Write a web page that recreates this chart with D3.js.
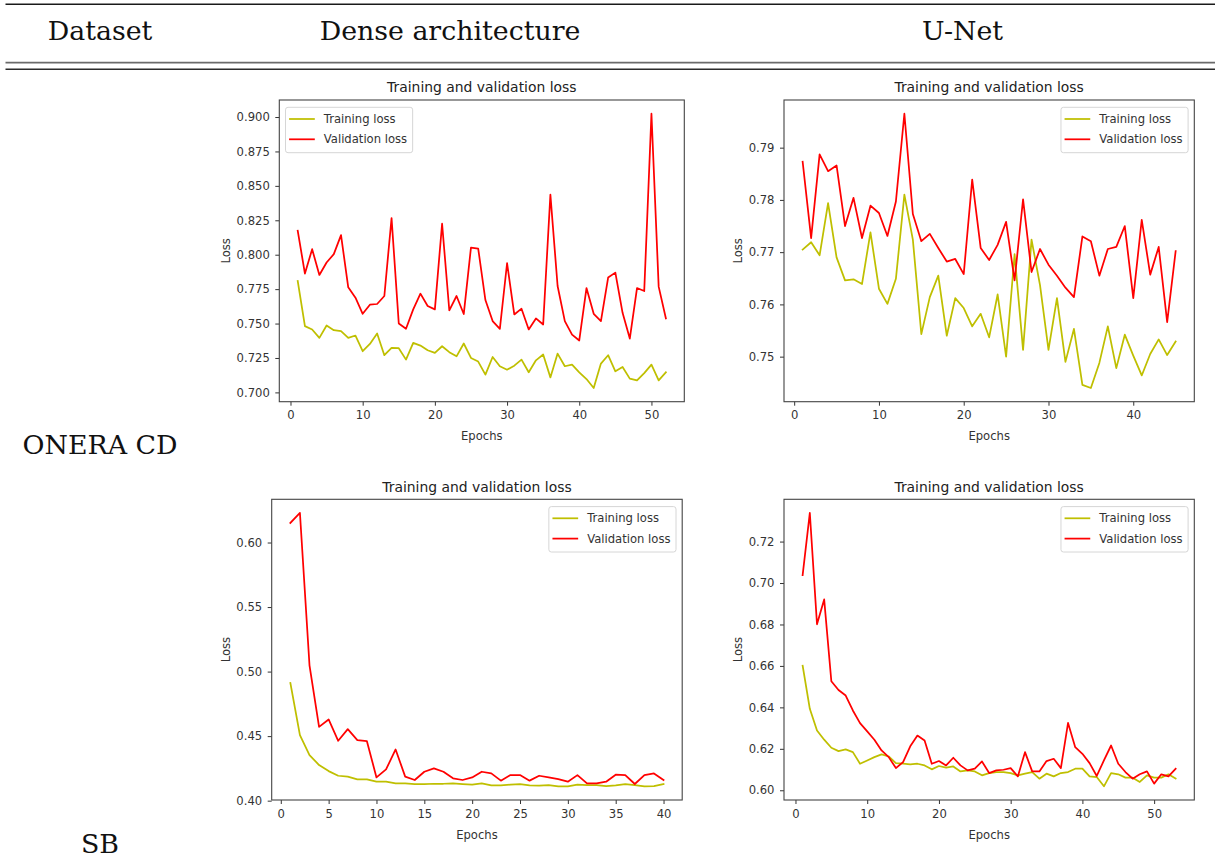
<!DOCTYPE html>
<html>
<head>
<meta charset="utf-8">
<script src="https://cdn.jsdelivr.net/npm/d3@7"></script>
<style>
  html, body { margin: 0; padding: 0; background: #fff; }
  svg { display: block; }
</style>
</head>
<body>
<svg id="fig" width="1215" height="857"></svg>
<script>
// ---- Column / row headings ----
const columnHeads = ["Dataset", "Dense architecture", "U-Net"];
const rowHeads = ["ONERA CD", "SB"];
const panelTitle = "Training and validation loss";
const seriesNames = ["Training loss", "Validation loss"];
const xAxisName = "Epochs";
const yAxisName = "Loss";

// ---- ONERA CD, dense architecture (epochs 1..52) ----
const denseOneraTrain = [0.7809,0.7481,0.7457,0.7396,0.7486,0.7452,0.7445,0.7396,0.7413,0.7299,
  0.7352,0.7428,0.7270,0.7323,0.7321,0.7238,0.7360,0.7340,0.7306,0.7287,
  0.7335,0.7292,0.7262,0.7355,0.7250,0.7224,0.7129,0.7257,0.7190,0.7165,
  0.7194,0.7238,0.7146,0.7233,0.7275,0.7109,0.7282,0.7190,0.7202,0.7146,
  0.7097,0.7032,0.7209,0.7270,0.7153,0.7185,0.7100,0.7087,0.7140,0.7202,
  0.7087,0.7146];
const denseOneraVal = [0.8174,0.7863,0.8040,0.7853,0.7943,0.8004,0.8142,0.7763,0.7688,0.7571,
  0.7637,0.7642,0.7700,0.8266,0.7500,0.7462,0.7603,0.7717,0.7627,0.7603,
  0.8225,0.7595,0.7700,0.7569,0.8052,0.8045,0.7671,0.7518,0.7462,0.7938,
  0.7566,0.7608,0.7457,0.7537,0.7493,0.8436,0.7773,0.7518,0.7420,0.7377,
  0.7758,0.7571,0.7518,0.7834,0.7870,0.7578,0.7391,0.7758,0.7736,0.9024,
  0.7768,0.7537];
const denseOneraYTicks = [0.700,0.725,0.750,0.775,0.800,0.825,0.850,0.875,0.900];
const denseOneraXTicks = [0,10,20,30,40,50];

// ---- ONERA CD, U-Net (epochs 1..45) ----
const unetOneraTrain = [0.7705,0.7719,0.7694,0.7794,0.7690,0.7646,0.7648,0.7639,0.7738,0.7630,
  0.7601,0.7649,0.7810,0.7724,0.7543,0.7614,0.7655,0.7540,0.7612,0.7593,
  0.7558,0.7582,0.7537,0.7619,0.7500,0.7696,0.7513,0.7724,0.7637,0.7513,
  0.7612,0.7490,0.7553,0.7446,0.7440,0.7488,0.7558,0.7478,0.7542,0.7502,
  0.7464,0.7505,0.7533,0.7503,0.7529];
const unetOneraVal = [0.7873,0.7727,0.7887,0.7855,0.7866,0.7750,0.7804,0.7727,0.7789,0.7775,
  0.7731,0.7797,0.7965,0.7773,0.7721,0.7735,0.7708,0.7682,0.7687,0.7658,
  0.7839,0.7708,0.7685,0.7714,0.7758,0.7646,0.7801,0.7662,0.7706,0.7676,
  0.7655,0.7632,0.7614,0.7730,0.7721,0.7655,0.7706,0.7710,0.7750,0.7612,
  0.7762,0.7657,0.7710,0.7566,0.7702];
const unetOneraYTicks = [0.75,0.76,0.77,0.78,0.79];
const unetOneraXTicks = [0,10,20,30,40];

// ---- SB, dense architecture (epochs 1..40) ----
const denseSbTrain = [0.4912,0.4508,0.4353,0.4276,0.4229,0.4193,0.4186,0.4165,0.4165,0.4147,
  0.4147,0.4134,0.4134,0.4129,0.4129,0.4131,0.4131,0.4134,0.4129,0.4124,
  0.4134,0.4119,0.4119,0.4124,0.4129,0.4119,0.4116,0.4121,0.4111,0.4111,
  0.4124,0.4121,0.4121,0.4113,0.4119,0.4129,0.4121,0.4111,0.4113,0.4129];
const denseSbVal = [0.6152,0.6229,0.5049,0.4572,0.4629,0.4464,0.4554,0.4469,0.4461,0.4180,
  0.4242,0.4397,0.4186,0.4160,0.4224,0.4250,0.4224,0.4173,0.4160,0.4180,
  0.4224,0.4211,0.4155,0.4198,0.4198,0.4155,0.4193,0.4180,0.4167,0.4147,
  0.4198,0.4134,0.4134,0.4147,0.4201,0.4198,0.4129,0.4198,0.4211,0.4160];
const denseSbYTicks = [0.40,0.45,0.50,0.55,0.60];
const denseSbXTicks = [0,5,10,15,20,25,30,35,40];

// ---- SB, U-Net (epochs 1..53) ----
const unetSbTrain = [0.6601,0.6393,0.6288,0.6244,0.6205,0.6189,0.6197,0.6184,0.6128,0.6144,
  0.6160,0.6173,0.6163,0.6131,0.6128,0.6125,0.6128,0.6120,0.6101,0.6117,
  0.6109,0.6115,0.6091,0.6096,0.6091,0.6072,0.6083,0.6088,0.6088,0.6083,
  0.6072,0.6080,0.6088,0.6056,0.6080,0.6067,0.6083,0.6088,0.6104,0.6104,
  0.6067,0.6064,0.6019,0.6083,0.6077,0.6061,0.6061,0.6040,0.6072,0.6061,
  0.6061,0.6077,0.6056];
const unetSbVal = [0.7038,0.7338,0.6801,0.6921,0.6526,0.6484,0.6457,0.6385,0.6324,0.6284,
  0.6244,0.6192,0.6160,0.6107,0.6136,0.6212,0.6264,0.6240,0.6128,0.6141,
  0.6120,0.6157,0.6120,0.6096,0.6104,0.6139,0.6083,0.6096,0.6099,0.6107,
  0.6067,0.6184,0.6091,0.6091,0.6141,0.6152,0.6107,0.6325,0.6208,0.6176,
  0.6131,0.6069,0.6144,0.6216,0.6128,0.6088,0.6056,0.6077,0.6091,0.6032,
  0.6077,0.6067,0.6104];
const unetSbYTicks = [0.60,0.62,0.64,0.66,0.68,0.70,0.72];
const unetSbXTicks = [0,10,20,30,40,50];

// ---- Styling ----
const trainColor = "#bfbf00";
const valColor = "#ff0000";
const plotFont = "'DejaVu Sans', sans-serif";
const headFont = "'DejaVu Serif', serif";
const tickSize = 11.6;
const titleSize = 13.9;

const svg = d3.select("#fig");
svg.append("rect").attr("width", 1215).attr("height", 857).attr("fill", "#fff");

// Table rules
const rules = [
  { y: 4.2, color: "#1a1a1a", w: 1.6 },
  { y: 62.6, color: "#6a6a6a", w: 1.6 },
  { y: 69.2, color: "#2a2a2a", w: 1.6 }
];
svg.selectAll("line.rule").data(rules).join("line")
  .attr("class", "rule")
  .attr("x1", 5.5).attr("x2", 1215)
  .attr("y1", d => d.y).attr("y2", d => d.y)
  .attr("stroke", d => d.color).attr("stroke-width", d => d.w);

// Table headings
const headPos = [[100, 40], [450, 40], [962.5, 40]];
columnHeads.forEach((t, i) => {
  svg.append("text").attr("x", headPos[i][0]).attr("y", headPos[i][1])
    .attr("text-anchor", "middle").attr("font-family", headFont)
    .attr("font-size", 26.8).attr("fill", "#111").text(t);
});
const rowPos = [[100, 454], [100, 852.5]];
rowHeads.forEach((t, i) => {
  svg.append("text").attr("x", rowPos[i][0]).attr("y", rowPos[i][1])
    .attr("text-anchor", "middle").attr("font-family", headFont)
    .attr("font-size", 26.8).attr("fill", "#111").text(t);
});

// One loss-curve panel in the matplotlib look
function drawPanel(cfg) {
  const { left, top, right, bottom, train, val, yTicks, xTicks, yFmt, legendSide } = cfg;
  const n = Math.max(train.length, val.length);
  const xPad = 0.05 * (n - 1);
  const x = d3.scaleLinear().domain([1 - xPad, n + xPad]).range([left, right]);
  const all = train.concat(val);
  const [lo, hi] = d3.extent(all);
  const yPad = 0.05 * (hi - lo);
  const y = d3.scaleLinear().domain([lo - yPad, hi + yPad]).range([bottom, top]);

  const g = svg.append("g");

  // series
  const line = d3.line().x((d, i) => x(i + 1)).y(d => y(d));
  g.append("path").datum(train).attr("d", line)
    .attr("fill", "none").attr("stroke", trainColor).attr("stroke-width", 1.75)
    .attr("stroke-linejoin", "round").attr("stroke-linecap", "square");
  g.append("path").datum(val).attr("d", line)
    .attr("fill", "none").attr("stroke", valColor).attr("stroke-width", 1.75)
    .attr("stroke-linejoin", "round").attr("stroke-linecap", "square");

  // axes
  const xAxis = g.append("g").attr("transform", `translate(0,${bottom})`)
    .call(d3.axisBottom(x).tickValues(xTicks).tickFormat(d3.format("d")).tickSize(4).tickPadding(5.5).tickSizeOuter(0));
  const yAxis = g.append("g").attr("transform", `translate(${left},0)`)
    .call(d3.axisLeft(y).tickValues(yTicks).tickFormat(d3.format(yFmt)).tickSize(4).tickPadding(5.5).tickSizeOuter(0));
  [xAxis, yAxis].forEach(a => {
    a.select(".domain").remove();
    a.selectAll("line").attr("stroke", "#333").attr("stroke-width", 1);
    a.selectAll("text").attr("font-family", plotFont).attr("font-size", tickSize).attr("fill", "#333");
  });

  // frame
  g.append("rect").attr("x", left).attr("y", top)
    .attr("width", right - left).attr("height", bottom - top)
    .attr("fill", "none").attr("stroke", "#444").attr("stroke-width", 1.1);

  // title and axis names
  g.append("text").attr("x", (left + right) / 2).attr("y", top - 7.6)
    .attr("text-anchor", "middle").attr("font-family", plotFont)
    .attr("font-size", titleSize).attr("fill", "#222").text(panelTitle);
  g.append("text").attr("x", (left + right) / 2).attr("y", bottom + 38.6)
    .attr("text-anchor", "middle").attr("font-family", plotFont)
    .attr("font-size", tickSize).attr("fill", "#333").text(xAxisName);
  let minX = left;
  yAxis.selectAll("text").each(function () {
    const b = this.getBBox();
    const m = this.getCTM();
    minX = Math.min(minX, b.x + m.e);
  });
  g.append("text")
    .attr("transform", `translate(${minX - 6.5},${(top + bottom) / 2}) rotate(-90)`)
    .attr("text-anchor", "middle").attr("font-family", plotFont)
    .attr("font-size", tickSize).attr("fill", "#333").text(yAxisName);

  // legend
  const lg = g.append("g");
  const box = lg.append("rect").attr("rx", 2.5).attr("ry", 2.5)
    .attr("fill", "#fff").attr("fill-opacity", 0.8)
    .attr("stroke", "#d6d6d6").attr("stroke-width", 1);
  const items = [{ name: seriesNames[0], color: trainColor }, { name: seriesNames[1], color: valColor }];
  let maxW = 0;
  items.forEach((it, i) => {
    const cy = 11.7 + i * 20.3;
    lg.append("line").attr("x1", 3.6).attr("x2", 29.3).attr("y1", cy).attr("y2", cy)
      .attr("stroke", it.color).attr("stroke-width", 1.75);
    const t = lg.append("text").attr("x", 38.3).attr("y", cy).attr("dy", "0.36em")
      .attr("font-family", plotFont).attr("font-size", tickSize).attr("fill", "#333").text(it.name);
    maxW = Math.max(maxW, t.node().getComputedTextLength());
  });
  const bw = 38.3 + maxW + 5.5, bh = 45.4;
  box.attr("x", 0).attr("y", 0).attr("width", bw).attr("height", bh);
  const bx = legendSide === "left" ? left + 6.2 : right - 6.2 - bw;
  lg.attr("transform", `translate(${bx},${top + 7.3})`);
}

drawPanel({ left: 279.3, top: 100, right: 684.3, bottom: 401.7,
  train: denseOneraTrain, val: denseOneraVal, yTicks: denseOneraYTicks, xTicks: denseOneraXTicks,
  yFmt: ".3f", legendSide: "left" });
drawPanel({ left: 784, top: 100, right: 1194.3, bottom: 401.7,
  train: unetOneraTrain, val: unetOneraVal, yTicks: unetOneraYTicks, xTicks: unetOneraXTicks,
  yFmt: ".2f", legendSide: "right" });
drawPanel({ left: 271.7, top: 499.3, right: 682.2, bottom: 800,
  train: denseSbTrain, val: denseSbVal, yTicks: denseSbYTicks, xTicks: denseSbXTicks,
  yFmt: ".2f", legendSide: "right" });
drawPanel({ left: 784, top: 499.3, right: 1194.3, bottom: 800,
  train: unetSbTrain, val: unetSbVal, yTicks: unetSbYTicks, xTicks: unetSbXTicks,
  yFmt: ".2f", legendSide: "right" });
</script>
</body>
</html>
